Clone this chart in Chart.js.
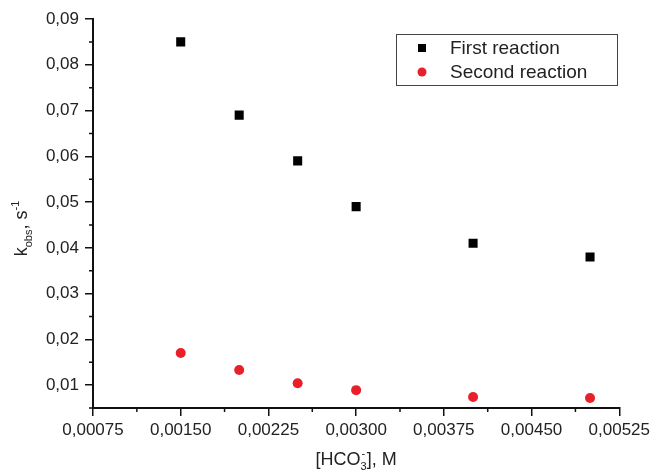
<!DOCTYPE html>
<html>
<head>
<meta charset="utf-8">
<script src="https://cdn.jsdelivr.net/npm/chart.js@4"></script>
<style>
  html, body { margin: 0; padding: 0; background: #fff; }
  #wrap { width: 654px; height: 471px; }
</style>
</head>
<body>
<div id="wrap"><canvas id="kChart"></canvas></div>
<script>
// concentrations, M
const conc = [0.0015, 0.002, 0.0025, 0.003, 0.004, 0.005];
const firstReaction = [0.085, 0.069, 0.059, 0.049, 0.041, 0.038];
const secondReaction = [0.017, 0.0133, 0.0104, 0.0089, 0.0074, 0.0072];
const xTicks = [0.00075, 0.0015, 0.00225, 0.003, 0.00375, 0.0045, 0.00525];
const yTicks = [0.01, 0.02, 0.03, 0.04, 0.05, 0.06, 0.07, 0.08, 0.09];

const FONT = '"Liberation Sans", Arial, sans-serif';

function pts(ys) {
    return conc.map((x, i) => ({ x: x, y: ys[i] }));
}

// minor ticks, axis titles with sub/superscripts, boxed legend
const extras = {
    id: 'extras',
    afterDraw(chart) {
        const ctx = chart.ctx;
        const xs = chart.scales.x, ys = chart.scales.y;
        const area = chart.chartArea;
        ctx.save();
        ctx.strokeStyle = '#111';
        ctx.lineWidth = 1.5;
        ctx.beginPath();
        for (let i = 0; i < xTicks.length - 1; i++) {
            const px = xs.getPixelForValue((xTicks[i] + xTicks[i + 1]) / 2);
            ctx.moveTo(px, area.bottom);
            ctx.lineTo(px, area.bottom + 4);
        }
        const yMinor = [0.005].concat(yTicks.slice(0, -1).map(v => v + 0.005));
        yMinor.forEach(v => {
            const py = ys.getPixelForValue(v);
            ctx.moveTo(area.left, py);
            ctx.lineTo(area.left - 4, py);
        });
        ctx.stroke();

        ctx.fillStyle = '#222';
        ctx.textBaseline = 'alphabetic';
        const big = '18px ' + FONT, small = '11px ' + FONT;

        // x title: [HCO3-], M with stacked sub/sup
        ctx.font = big;
        const wa = ctx.measureText('[HCO').width, wc = ctx.measureText('], M').width;
        ctx.font = small;
        const wb = Math.max(ctx.measureText('3').width, ctx.measureText('-').width);
        let cx = (area.left + area.right) / 2 - (wa + wb + wc) / 2;
        const by = 465;
        ctx.font = big; ctx.fillText('[HCO', cx, by); cx += wa;
        ctx.font = small;
        ctx.fillText('3', cx, by + 5);
        ctx.fillText('-', cx + 1, by - 8);
        cx += wb;
        ctx.font = big; ctx.fillText('], M', cx, by);

        // y title: k_obs, s^-1
        ctx.save();
        ctx.translate(27, (area.top + area.bottom) / 2 + 15);
        ctx.rotate(-Math.PI / 2);
        const yparts = [['k', big, 0], ['obs', small, 5], [', s', big, 0], ['-1', small, -8]];
        let yw = 0;
        yparts.forEach(p => { ctx.font = p[1]; yw += ctx.measureText(p[0]).width; });
        let yx = -yw / 2;
        yparts.forEach(p => {
            ctx.font = p[1];
            ctx.fillText(p[0], yx, p[2]);
            yx += ctx.measureText(p[0]).width;
        });
        ctx.restore();

        // legend
        ctx.strokeStyle = '#444';
        ctx.lineWidth = 1;
        ctx.strokeRect(396.5, 34.5, 221, 51);
        ctx.font = '19px ' + FONT;
        ctx.textBaseline = 'middle';
        chart.data.datasets.forEach((ds, i) => {
            const y = 48 + i * 24;
            ctx.fillStyle = ds.backgroundColor;
            if (ds.pointStyle === 'rect') {
                ctx.fillRect(418, y - 4, 8, 8);
            } else {
                ctx.beginPath();
                ctx.arc(422, y, 4.5, 0, Math.PI * 2);
                ctx.fill();
            }
            ctx.fillStyle = '#222';
            ctx.fillText(ds.label, 450, y + 1);
        });
        ctx.restore();
    }
};

new Chart(document.getElementById('kChart'), {
    type: 'scatter',
    data: {
        datasets: [{
            label: 'First reaction',
            data: pts(firstReaction),
            pointStyle: 'rect',
            pointRadius: 6.4,
            backgroundColor: '#000',
            borderColor: '#000',
            borderWidth: 0
        }, {
            label: 'Second reaction',
            data: pts(secondReaction),
            pointStyle: 'circle',
            pointRadius: 5,
            backgroundColor: '#e8202a',
            borderColor: '#e8202a',
            borderWidth: 0
        }]
    },
    options: {
        responsive: true,
        maintainAspectRatio: false,
        animation: false,
        layout: { padding: { left: 0, right: 31, top: 19, bottom: 0 } },
        plugins: { legend: { display: false }, tooltip: { enabled: false } },
        scales: {
            x: {
                type: 'linear',
                min: 0.00075,
                max: 0.00525,
                afterBuildTicks: s => { s.ticks = xTicks.map(v => ({ value: v })); },
                afterFit: s => { s.height = 63; },
                border: { color: '#111', width: 2 },
                grid: { drawOnChartArea: false, color: '#111', tickLength: 8, lineWidth: 1.5 },
                ticks: {
                    color: '#222',
                    font: { family: FONT, size: 17 },
                    padding: 4,
                    maxRotation: 0,
                    callback: v => v.toFixed(5).replace('.', ',')
                }
            },
            y: {
                min: 0.005,
                max: 0.09,
                afterBuildTicks: s => { s.ticks = yTicks.map(v => ({ value: v })); },
                afterFit: s => { s.width = 93; },
                border: { color: '#111', width: 2 },
                grid: { drawOnChartArea: false, color: '#111', tickLength: 8, lineWidth: 1.5 },
                ticks: {
                    color: '#222',
                    font: { family: FONT, size: 17 },
                    padding: 6,
                    callback: v => v.toFixed(2).replace('.', ',')
                }
            }
        }
    },
    plugins: [extras]
});
</script>
</body>
</html>
